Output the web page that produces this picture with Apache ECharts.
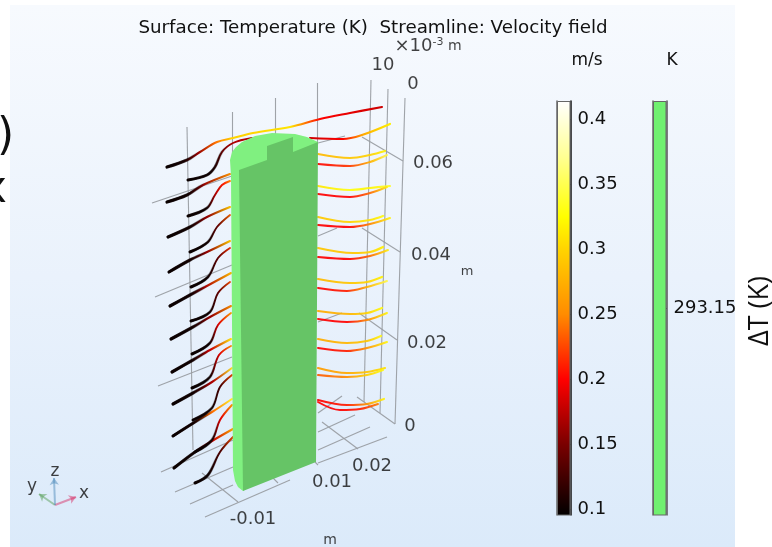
<!DOCTYPE html>
<html><head><meta charset="utf-8">
<style>html,body{margin:0;padding:0;background:#fff}#c{width:772px;height:547px}</style>
<script src="https://cdn.jsdelivr.net/npm/echarts@6/dist/echarts.min.js"></script>
</head><body><div id="c"></div>
<script>
// Projected positions: [horizontal, vertical]
const gridLines = [
 [[187,127],[193,450]],[[232,112],[232,160]],[[275,98],[275,135]],[[317,83],[317,145]],
 [[371,80],[364,402]],[[388,89],[380,413]],[[405,98],[395,424]],
 [[152,203],[232,176]],[[155,297],[232,265]],[[158,386],[232,357]],[[161,472],[233,440]],
 [[318,143],[345,136]],[[362,137],[403,161]],[[318,236],[337,228]],[[362,228],[400,252]],
 [[318,322],[342,313]],[[359,313],[397,340]],[[357,397],[395,424]],
 [[318,413],[342,396]],[[318,432],[355,415]],[[318,450],[370,427]],[[318,463],[387,437]],
 [[175,492],[233,467]],[[190,504],[233,485]],[[205,517],[290,480]],
 [[202,473],[238,502]],[[322,422],[358,449]],[[315,462],[318,465]],[[273,478],[278,483]]
];
const bodyLight = [[231,176],[230,160],[232,152],[236,147],[242,142],[255,136],[272,133],[295,134],[307,137],[318,142],[300,300],[260,480],[243,491],[238,487],[235,481],[233,470]];
const bodyFront = [[239,170],[267,160],[267,146],[293,137],[293,152],[318,142],[316,462],[243,491]];

const leftLong = [
 [[167,167],[187,160],[200,152],[217,142],[233,138],[253,133],[290,127],[320,119],[350,113],[382,107]],
 [[167,202],[187,195],[203,185],[230,174]],
 [[168,237],[190,227],[207,217],[230,207]],
 [[169,272],[190,260],[207,252],[230,241]],
 [[170,306],[190,295],[205,287],[231,273]],
 [[171,339],[193,327],[210,317],[231,306]],
 [[172,372],[193,360],[210,350],[231,339]],
 [[173,404],[193,393],[212,382],[232,368]],
 [[173,436],[195,422],[212,412],[232,399]],
 [[174,468],[195,452],[212,441],[233,429]]
];
const leftLongSpeed = [
 [.1,.13,.16,.24,.3,.3,.31,.2,.19,.18],
 [.1,.115,.16,.26],[.1,.115,.16,.3],[.1,.115,.16,.3],[.1,.115,.17,.29],
 [.1,.115,.16,.26],[.1,.115,.18,.33],[.1,.115,.17,.34],[.1,.12,.24,.34],[.1,.115,.18,.28]
];
const leftShort = [
 [[188,180],[207,175],[215,167],[222,152],[233,143],[252,138]],
 [[188,216],[207,208],[215,195],[222,185],[230,181]],
 [[190,252],[208,242],[217,227],[230,215]],
 [[191,287],[208,277],[218,258],[230,248]],
 [[191,321],[210,312],[218,293],[230,282]],
 [[192,354],[210,343],[218,325],[231,313]],
 [[192,388],[210,377],[219,355],[231,346]],
 [[193,420],[212,408],[220,387],[232,375]],
 [[195,452],[212,440],[220,420],[232,405]],
 [[195,483],[208,475],[220,452],[233,437]]
];
const leftShortSpeed = [
 [.1,.105,.12,.15,.17,.17],
 [.1,.105,.17,.21,.27],[.1,.105,.14,.24],[.1,.105,.14,.22],[.1,.105,.14,.23],
 [.1,.105,.19,.28],[.1,.105,.19,.27],[.1,.105,.13,.23],[.1,.105,.19,.28],[.1,.105,.13,.23]
];
const rightTop = [[[310,138],[343,139],[362,135],[390,124]]];
const rightTopSpeed = [[.18,.2,.27,.32]];
const rightA = [
 [[318,154],[350,158],[370,155],[385,151]],
 [[318,186],[350,190],[370,188],[390,186]],
 [[318,217],[350,222],[370,220],[383,216]],
 [[318,248],[353,253],[370,252],[383,247]],
 [[318,279],[350,283],[367,282],[382,277]],
 [[318,311],[350,314],[367,313],[382,308]],
 [[318,339],[347,343],[367,341],[381,336]],
 [[318,368],[347,373],[367,372],[385,368]],
 [[318,400],[347,405],[367,404],[384,399]]
];
const rightASpeed = [
 [.28,.29,.3,.32],[.31,.33,.32,.34],[.29,.3,.31,.33],[.29,.29,.3,.32],[.28,.29,.3,.32],
 [.27,.28,.3,.33],[.27,.28,.29,.33],[.26,.27,.29,.31],[.2,.21,.26,.33]
];
const rightB = [
 [[318,164],[350,166],[370,162],[387,155]],
 [[318,194],[350,197],[370,193],[387,187]],
 [[318,225],[350,227],[370,224],[390,218]],
 [[318,257],[350,259],[370,256],[388,250]],
 [[318,288],[347,291],[367,287],[387,281]],
 [[318,319],[347,322],[367,320],[387,313]],
 [[318,348],[347,351],[367,348],[387,342]],
 [[318,375],[347,377],[367,375],[383,370]],
 [[318,402],[340,410],[360,409],[378,404]]
];
const rightBSpeed = [
 [.2,.22,.28,.35],[.2,.2,.24,.33],[.2,.2,.25,.33],[.2,.2,.24,.33],[.2,.21,.28,.35],
 [.2,.2,.25,.33],[.2,.21,.26,.33],[.23,.25,.3,.33],[.2,.2,.21,.25]
];
const heatStops = [[.0954,'#000000'],[.15,'#7a0000'],[.2,'#ff0000'],[.25,'#ff8c00'],[.3,'#ffd400'],[.325,'#ffff00'],[.37,'#ffff90'],[.4138,'#ffffff']];

const speedTicks = [.1,.15,.2,.25,.3,.35,.4];
const tempTicks = [293.15];
const tickLabels3D = [
 ['10',383,65],['0',413,84],['0.06',433,163],['0.04',431,255],['0.02',427,343],['0',410,426],
 ['0.02',372,466],['0.01',332,482],['-0.01',253,519]
];
const unitLabels = [['m',467,272,13],['m',330,540,14]];
const triadArrows = [
 {name:'x',to:[76,497],color:'#d8336a',at:[84,494]},
 {name:'y',to:[39,494],color:'#5aa05a',at:[32,487]},
 {name:'z',to:[54,478],color:'#4f8cbb',at:[55,472]}
];
const triadOrigin = [55,505];

const font = 'DejaVu Sans';
const textColor = '#111';
const curve = .35;
function heat(v){
  for(let i=1;i<heatStops.length;i++){
    if(v<=heatStops[i][0]){
      const a=heatStops[i-1],b=heatStops[i],t=(v-a[0])/(b[0]-a[0]);
      const pa=parseInt(a[1].slice(1),16),pb=parseInt(b[1].slice(1),16);
      const ch=s=>Math.round(((pa>>s)&255)*(1-t)+((pb>>s)&255)*t);
      return `rgb(${ch(16)},${ch(8)},${ch(0)})`;
    }
  }
  return '#fff';
}
function streamSeries(lines,speeds,width,z,opacity){
  return lines.map((pts,i)=>{
    const x0=pts[0][0],x1=pts[pts.length-1][0];
    const stops=pts.map((p,j)=>({offset:(p[0]-x0)/(x1-x0),color:heat(speeds[i][j])}));
    return {type:'line',xAxisIndex:0,yAxisIndex:0,data:pts,smooth:curve,symbol:'none',silent:true,z,
      lineStyle:{width,cap:'round',opacity:opacity||1,color:new echarts.graphic.LinearGradient(0,0,1,0,stops)}};
  });
}
// thick dark beginning of the left-hand streamlines, fading out along the same path
function startTaper(lines,width,z){
  return lines.map(pts=>({type:'line',xAxisIndex:0,yAxisIndex:0,data:pts,smooth:curve,symbol:'none',silent:true,z,
    lineStyle:{width,cap:'round',color:new echarts.graphic.LinearGradient(0,0,pts.length>6?.25:1,0,[
      {offset:0,color:'rgba(10,0,0,1)'},{offset:.35,color:'rgba(10,0,0,.8)'},{offset:.6,color:'rgba(10,0,0,0)'},{offset:1,color:'rgba(10,0,0,0)'}])}}));
}
const barGrad = new echarts.graphic.LinearGradient(0,1,0,0,
  heatStops.map(s=>({offset:(s[0]-.0954)/(.4138-.0954),color:s[1]})));

const series = [
 {type:'lines',coordinateSystem:'cartesian2d',xAxisIndex:0,yAxisIndex:0,z:1,silent:true,
  data:gridLines.map(c=>({coords:c})),lineStyle:{color:'#9a9ea3',width:1.1,opacity:.95},symbol:'none'},
 ...streamSeries(rightTop,rightTopSpeed,2.2,2),
 ...streamSeries(rightA,rightASpeed,2.2,2,.92),
 ...streamSeries(rightB,rightBSpeed,2,2,.92),
 ...streamSeries(leftLong,leftLongSpeed,2.1,2),
 ...streamSeries(leftShort,leftShortSpeed,1.9,2),
 ...startTaper(leftLong,3.2,2),
 ...startTaper(leftShort,3,2),
 {type:'custom',xAxisIndex:0,yAxisIndex:0,z:3,silent:true,data:[0,1],
  renderItem(p,api){
    const i=p.dataIndex,pts=(i?bodyFront:bodyLight).map(q=>api.coord(q));
    return {type:'polygon',shape:{points:pts},style:{fill:i?'#66c466':'#80f080'}};
  }},
 {type:'scatter',xAxisIndex:0,yAxisIndex:0,z:4,silent:true,symbolSize:0,
  data:tickLabels3D.map(t=>({value:[t[1],t[2]],label:{formatter:t[0]}})),
  label:{show:true,position:'inside',fontFamily:font,fontSize:18,color:textColor}},
 {type:'scatter',xAxisIndex:0,yAxisIndex:0,z:4,silent:true,symbolSize:0,
  data:unitLabels.map(t=>({value:[t[1],t[2]],label:{formatter:t[0],fontSize:t[3]}})),
  label:{show:true,position:'inside',fontFamily:font,color:textColor}},
 {type:'scatter',xAxisIndex:0,yAxisIndex:0,z:4,silent:true,symbolSize:0,
  data:[{value:[428,46]}],
  label:{show:true,position:'inside',fontFamily:font,color:textColor,
    formatter:'{a|×10}{b|-3}{c| m}',
    rich:{a:{fontSize:18,fontFamily:font,color:textColor},b:{fontSize:11,fontFamily:font,color:textColor,verticalAlign:'top',padding:[0,0,8,0]},c:{fontSize:14,fontFamily:font,color:textColor}}}},
 {type:'lines',coordinateSystem:'cartesian2d',xAxisIndex:0,yAxisIndex:0,z:4,silent:true,
  data:triadArrows.map(a=>({coords:[triadOrigin,a.to],lineStyle:{color:a.color}})),
  lineStyle:{width:2},symbol:['none','arrow'],symbolSize:7},
 {type:'scatter',xAxisIndex:0,yAxisIndex:0,z:4,silent:true,symbolSize:0,
  data:triadArrows.map(a=>({value:a.at,label:{formatter:a.name}})),
  label:{show:true,position:'inside',fontFamily:font,fontSize:17,color:textColor}},
 {type:'bar',xAxisIndex:1,yAxisIndex:1,data:[.4138],barWidth:'100%',silent:true,z:2,
  itemStyle:{color:barGrad,borderColor:'#666',borderWidth:1}},
 {type:'bar',xAxisIndex:2,yAxisIndex:3,data:[294.15],barWidth:'100%',silent:true,z:2,
  itemStyle:{color:'#70f070',borderColor:'#666',borderWidth:1}}
];

function cbAxis(grid,min,max,ticks,side,labels,prec,lineColor){
  return {type:'value',gridIndex:grid,min,max,position:side,
    axisLine:{show:true,onZero:false,lineStyle:{color:lineColor,width:1.5}},
    axisTick:{show:true,inside:true,length:3,customValues:ticks,lineStyle:{color:'#222'}},
    axisLabel:{show:labels,customValues:ticks,margin:7,fontFamily:font,fontSize:18,color:textColor,
      formatter:v=>String(+v.toFixed(prec))},
    splitLine:{show:false}};
}
const option = {
 animation:false,
 title:{text:'Surface: Temperature (K)  Streamline: Velocity field',left:368,top:14,textAlign:'center',
   textStyle:{fontFamily:font,fontSize:18.3,fontWeight:'normal',color:textColor}},
 graphic:[
  {type:'rect',z:-100,shape:{x:10,y:5,width:725,height:542},
   style:{fill:new echarts.graphic.LinearGradient(0,0,0,1,[{offset:0,color:'#f7fafe'},{offset:.5,color:'#eaf2fc'},{offset:1,color:'#dbeafa'}])}},
  {type:'text',z:10,x:-3,y:138,style:{text:')',font:'44px "DejaVu Sans"',fill:'#111',verticalAlign:'middle'}},
  {type:'text',z:10,x:-19,y:191,style:{text:'x',font:'44px "DejaVu Sans"',fill:'#111',verticalAlign:'middle'}},
  {type:'text',z:10,x:587,y:61,style:{text:'m/s',font:'17px "DejaVu Sans"',fill:textColor,align:'center',verticalAlign:'middle'}},
  {type:'text',z:10,x:672,y:61,style:{text:'K',font:'17px "DejaVu Sans"',fill:textColor,align:'center',verticalAlign:'middle'}},
  {type:'text',z:10,x:760,y:311,rotation:Math.PI/2,style:{text:'ΔT (K)',font:'27px "Open Sans"',fill:textColor,align:'center',verticalAlign:'middle'}}
 ],
 grid:[
  {left:0,top:0,width:772,height:547},
  {left:557,top:101,width:13.5,height:414},
  {left:653,top:101,width:13.5,height:414}
 ],
 xAxis:[
  {type:'value',gridIndex:0,min:0,max:772,show:false},
  {type:'category',gridIndex:1,data:['v'],axisLine:{show:false},axisTick:{show:false},axisLabel:{show:false}},
  {type:'category',gridIndex:2,data:['T'],axisLine:{show:false},axisTick:{show:false},axisLabel:{show:false}}
 ],
 yAxis:[
  {type:'value',gridIndex:0,min:0,max:547,inverse:true,show:false},
  cbAxis(1,.0954,.4138,speedTicks,'left',false,2,'#666'),
  cbAxis(1,.0954,.4138,speedTicks,'right',true,2,'#111'),
  cbAxis(2,292.15,294.15,tempTicks,'left',false,2,'#666'),
  cbAxis(2,292.15,294.15,tempTicks,'right',true,2,'#555')
 ],
 series
};
echarts.init(document.getElementById('c'),null,{renderer:'canvas'}).setOption(option);
</script></body></html>
